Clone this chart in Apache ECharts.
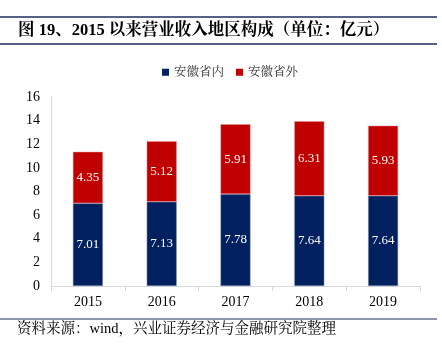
<!DOCTYPE html>
<html><head><meta charset="utf-8">
<script src="https://cdn.jsdelivr.net/npm/echarts@6/dist/echarts.min.js"></script>
<style>html,body{margin:0;padding:0;background:#fff;}#c{width:442px;height:358px;}</style>
</head><body><div id="c"></div>
<script>
const categories = ['2015','2016','2017','2018','2019'];
const inside = [7.01, 7.13, 7.78, 7.64, 7.64];
const outside = [4.35, 5.12, 5.91, 6.31, 5.93];
const yTicks = [0, 2, 4, 6, 8, 10, 12, 14, 16];
const seriesNames = ['安徽省内', '安徽省外'];
const titleText = '图 19、2015 以来营业收入地区构成（单位：亿元）';
const sourceText = '资料来源：wind，兴业证券经济与金融研究院整理';

const serif = '"Liberation Serif", "Noto Serif CJK SC", "Noto Sans CJK SC", serif';
const chart = echarts.init(document.getElementById('c'), null, {renderer: 'canvas'});
const labelStyle = {show: true, position: 'inside', color: '#fff', fontFamily: serif, fontSize: 13};
chart.setOption({
  animation: false,
  graphic: [
    {type: 'line', shape: {x1: 0, y1: 17, x2: 437, y2: 17}, style: {stroke: '#1F2D5A', lineWidth: 1.5}},
    {type: 'line', shape: {x1: 0, y1: 44, x2: 437, y2: 44}, style: {stroke: '#1F2D5A', lineWidth: 1.5}},
    {type: 'text', left: 18, top: 22, style: {text: titleText, font: 'bold 16.5px ' + serif, fill: '#000'}},
    {type: 'line', shape: {x1: 0, y1: 319, x2: 437, y2: 319}, style: {stroke: '#1F2D5A', lineWidth: 1.2}},
    {type: 'text', left: 17, top: 322, style: {text: sourceText, font: '14.5px ' + serif, fill: '#000'}}
  ],
  legend: {
    top: 61, left: 157, itemWidth: 7, itemHeight: 7, itemGap: 12, icon: 'rect',
    itemStyle: {borderWidth: 0},
    textStyle: {fontFamily: serif, fontSize: 12.5, color: '#333'},
    data: seriesNames
  },
  grid: {left: 51, right: 22, top: 97, bottom: 72},
  xAxis: {
    type: 'category', data: categories,
    axisLine: {lineStyle: {color: '#d9d9d9'}},
    axisTick: {show: true, length: 5, lineStyle: {color: '#d9d9d9'}},
    axisLabel: {fontFamily: serif, fontSize: 14, color: '#000', margin: 9}
  },
  yAxis: {
    type: 'value', min: yTicks[0], max: yTicks[yTicks.length - 1], interval: 2,
    axisLine: {show: true, lineStyle: {color: '#d9d9d9'}},
    axisTick: {show: false},
    splitLine: {show: false},
    axisLabel: {fontFamily: serif, fontSize: 14, color: '#000', margin: 11}
  },
  series: [
    {name: seriesNames[0], type: 'bar', stack: 'a', data: inside, barWidth: 30,
     itemStyle: {color: '#002060', borderColor: '#8497B0', borderWidth: 0.5}, label: labelStyle},
    {name: seriesNames[1], type: 'bar', stack: 'a', data: outside, barWidth: 30,
     itemStyle: {color: '#C00000', borderColor: '#E59090', borderWidth: 0.5}, label: labelStyle}
  ]
});
</script></body></html>
